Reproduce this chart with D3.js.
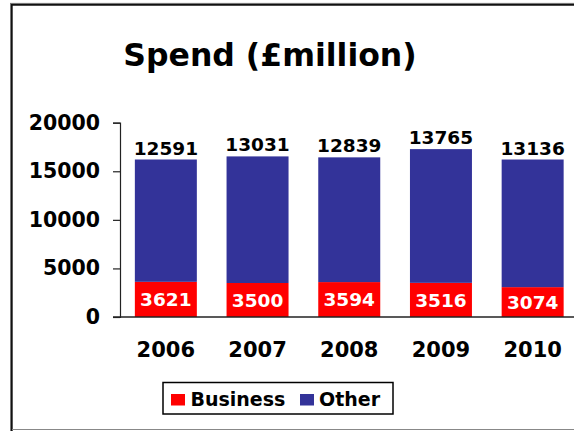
<!DOCTYPE html>
<html>
<head>
<meta charset="utf-8">
<script src="https://cdn.jsdelivr.net/npm/d3@7"></script>
<style>
  html, body { margin: 0; padding: 0; background: #fff; }
  svg { display: block; font-family: "DejaVu Sans", Verdana, sans-serif; font-weight: bold; }
</style>
</head>
<body>
<svg id="chart" width="574" height="431"></svg>
<script>
// Spending per year, split into business and other (£ million)
const years = ["2006", "2007", "2008", "2009", "2010"];
const business = [3621, 3500, 3594, 3516, 3074];
const other = [12591, 13031, 12839, 13765, 13136];
const yTicks = [0, 5000, 10000, 15000, 20000];
const seriesNames = ["Business", "Other"];
const seriesColors = ["#ff0000", "#333399"];

const svg = d3.select("#chart");

// Outer frame: dark left and top edges, light bottom edge
svg.append("line").attr("x1", 11.5).attr("x2", 11.5).attr("y1", 4).attr("y2", 431)
  .attr("stroke", "#111").attr("stroke-width", 2.4);
svg.append("line").attr("x1", 10.3).attr("x2", 574).attr("y1", 4.6).attr("y2", 4.6)
  .attr("stroke", "#111").attr("stroke-width", 2.4);
svg.append("line").attr("x1", 10.5).attr("x2", 10.5).attr("y1", 3).attr("y2", 431)
  .attr("stroke", "#777").attr("stroke-width", 1);
svg.append("line").attr("x1", 10).attr("x2", 574).attr("y1", 3.4).attr("y2", 3.4)
  .attr("stroke", "#777").attr("stroke-width", 1);
svg.append("line").attr("x1", 12).attr("x2", 574).attr("y1", 429.5).attr("y2", 429.5)
  .attr("stroke", "#888").attr("stroke-width", 1.2);

// Title
svg.append("text").attr("x", 270).attr("y", 66).attr("text-anchor", "middle")
  .attr("font-size", 31.5).attr("fill", "#000").text("Spend (£million)");

const x = d3.scaleBand().domain(years).range([120, 578.5])
  .paddingInner(0.324).paddingOuter(0.162);
const y = d3.scaleLinear().domain([0, 20000]).range([317, 122.7]);

const rows = years.map((yr, i) => ({ year: yr, Business: business[i], Other: other[i] }));
const stacked = d3.stack().keys(seriesNames)(rows);

// Stacked bars
svg.append("g").selectAll("g").data(stacked).join("g")
  .attr("fill", (d, i) => seriesColors[i])
  .selectAll("rect").data(d => d).join("rect")
  .attr("x", d => x(d.data.year))
  .attr("width", x.bandwidth())
  .attr("y", d => y(d[1]))
  .attr("height", d => y(d[0]) - y(d[1]));

// Y axis
const yAxis = svg.append("g").attr("transform", "translate(120,0)")
  .call(d3.axisLeft(y).tickValues(yTicks).tickSize(7).tickPadding(13).tickFormat(d3.format("d")))
  .attr("font-family", null).attr("font-size", null);
yAxis.select(".domain").attr("stroke", "#222").attr("stroke-width", 1.2);
yAxis.selectAll(".tick line").attr("stroke", "#222").attr("stroke-width", 1.2);
yAxis.selectAll(".tick text").attr("font-size", 20.5)
  .attr("font-weight", "bold").attr("fill", "#000");

// X axis baseline
svg.append("line").attr("x1", 113).attr("x2", 574).attr("y1", y(0)).attr("y2", y(0))
  .attr("stroke", "#222").attr("stroke-width", 1.4);

// Year labels
svg.append("g").selectAll("text").data(years).join("text")
  .attr("x", d => x(d) + x.bandwidth() / 2)
  .attr("y", 357)
  .attr("text-anchor", "middle")
  .attr("font-size", 21)
  .attr("fill", "#000")
  .text(d => d);

// Business values, centred in the red segment
svg.append("g").selectAll("text").data(stacked[0]).join("text")
  .attr("x", d => x(d.data.year) + x.bandwidth() / 2)
  .attr("y", d => (y(d[0]) + y(d[1])) / 2)
  .attr("dy", "0.36em")
  .attr("text-anchor", "middle")
  .attr("font-size", 18.5)
  .attr("fill", "#fff")
  .text(d => d.data.Business);

// Other values, above each bar
svg.append("g").selectAll("text").data(stacked[1]).join("text")
  .attr("x", d => x(d.data.year) + x.bandwidth() / 2)
  .attr("y", d => y(d[1]) - 5)
  .attr("text-anchor", "middle")
  .attr("font-size", 18.5)
  .attr("fill", "#000")
  .text(d => d.data.Other);

// Legend
const legend = svg.append("g");
legend.append("rect").attr("x", 163).attr("y", 382.5).attr("width", 230).attr("height", 31.5)
  .attr("fill", "#fff").attr("stroke", "#000").attr("stroke-width", 1.5);
const items = [
  { name: seriesNames[0], color: seriesColors[0], sx: 171, tx: 190.5 },
  { name: seriesNames[1], color: seriesColors[1], sx: 300, tx: 319 }
];
items.forEach(it => {
  legend.append("rect").attr("x", it.sx).attr("y", 394).attr("width", 14).attr("height", 11.5)
    .attr("fill", it.color);
  legend.append("text").attr("x", it.tx).attr("y", 405.7).attr("font-size", 19)
    .attr("fill", "#000").text(it.name);
});
</script>
</body>
</html>
